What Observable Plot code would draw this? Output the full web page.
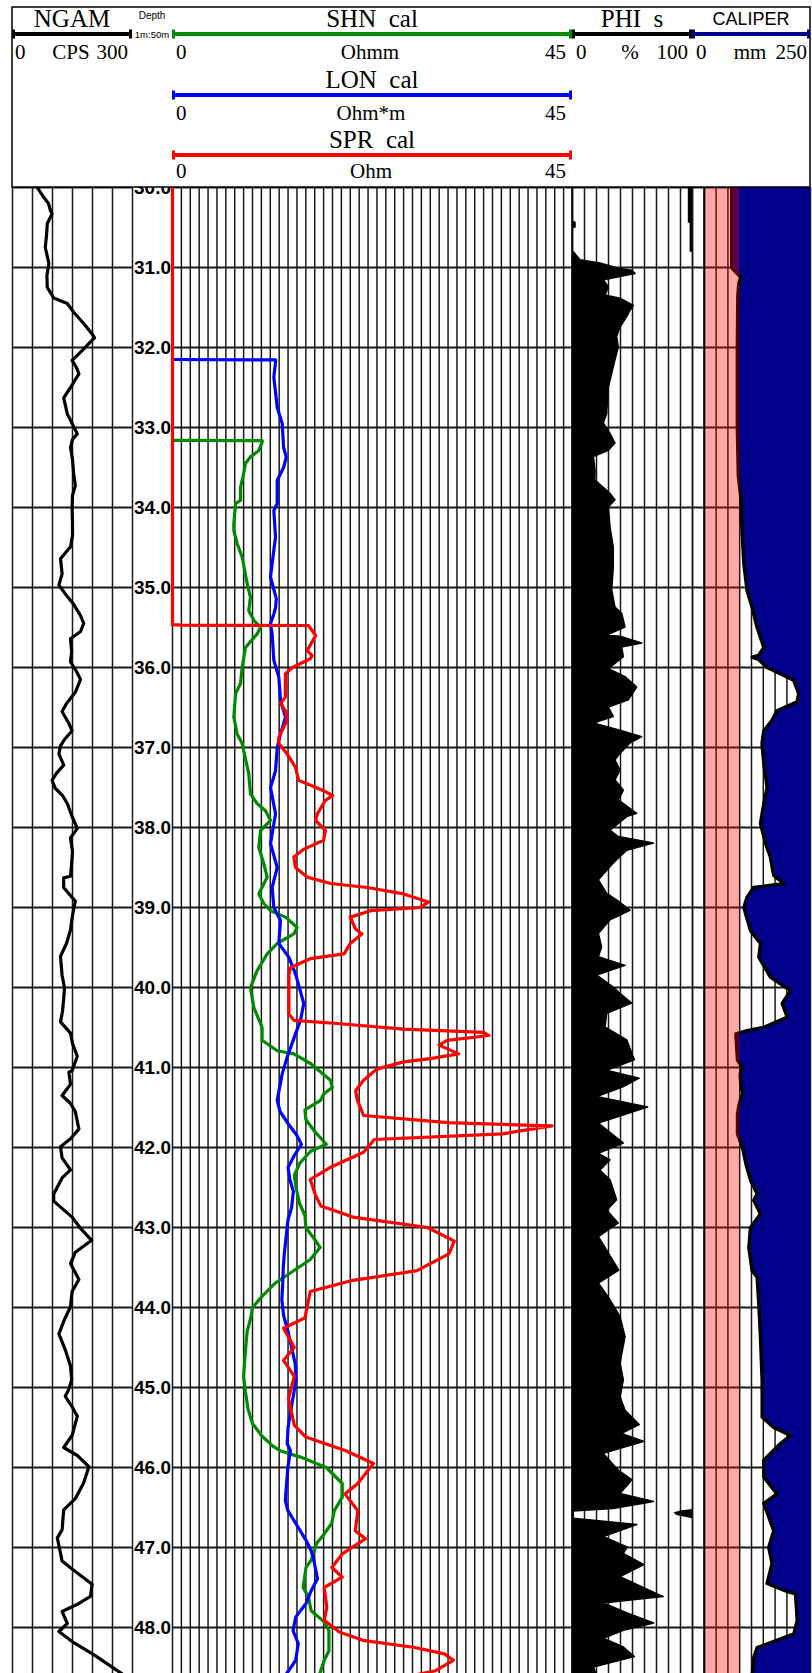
<!DOCTYPE html>
<html><head><meta charset="utf-8">
<script src="https://cdn.jsdelivr.net/npm/d3@7"></script>
<script src="https://cdn.jsdelivr.net/npm/@observablehq/plot@0.6"></script>
<style>
html,body{margin:0;padding:0;background:#fff;overflow:hidden}
#wrap{position:relative;width:812px;height:1673px;overflow:hidden;background:#fff}
</style></head><body><div id="wrap"></div>
<script>
// ---------------- data (depth in m, value in track units) ----------------
const depthTicks = [30,31,32,33,34,35,36,37,38,39,40,41,42,43,44,45,46,47,48];
const ngamTicks = [0,50,100,150,200,250,300];
const resTicks = Array.from({length: 46}, (_, i) => i);
const phiTicks = [0,10,20,30,40,50,60,70,80,90,100];
const calTicks = [0,25,50,75,100,125,150,175,200,225,250];
const bitBand = [{lo: 25, hi: 100}];

const NGAM = [[30.0,62],[30.1,75],[30.2,90],[30.29,95],[30.33,99],[30.45,87],[30.6,85],[30.75,82],[30.95,91],[31.1,86],[31.25,87],[31.38,103],[31.45,137],[31.56,153],[31.7,178],[31.83,199],[31.88,205],[31.95,191],[32.04,174],[32.16,149],[32.25,160],[32.33,166],[32.5,145],[32.63,128],[32.83,137],[33.08,162],[33.15,150],[33.25,145],[33.4,150],[33.58,153],[33.73,157],[33.85,150],[34.01,149],[34.2,150],[34.35,150],[34.49,145],[34.64,120],[34.83,124],[34.97,116],[35.1,135],[35.21,153],[35.35,170],[35.45,178],[35.55,170],[35.64,145],[35.8,148],[35.93,145],[36.05,160],[36.15,170],[36.31,157],[36.45,135],[36.55,124],[36.7,141],[36.79,149],[36.9,130],[36.98,120],[37.08,116],[37.22,128],[37.32,110],[37.41,99],[37.51,107],[37.6,125],[37.7,137],[37.85,148],[38.01,162],[38.13,145],[38.3,150],[38.45,148],[38.61,145],[38.63,128],[38.75,128],[38.92,157],[39.1,150],[39.28,145],[39.45,135],[39.61,120],[39.85,124],[40.0,130],[40.14,128],[40.3,125],[40.43,120],[40.57,145],[40.7,150],[40.86,162],[41.04,149],[41.06,141],[41.21,145],[41.35,124],[41.45,145],[41.55,157],[41.77,166],[41.89,145],[41.99,120],[42.13,124],[42.28,145],[42.38,124],[42.58,103],[42.67,103],[42.87,149],[43.01,170],[43.16,198],[43.31,157],[43.45,145],[43.65,166],[43.8,149],[43.99,145],[44.15,130],[44.33,116],[44.53,132],[44.73,145],[44.9,148],[45.02,141],[45.11,132],[45.25,150],[45.36,162],[45.6,149],[45.75,128],[45.85,162],[45.99,191],[46.19,178],[46.39,157],[46.53,128],[46.78,124],[46.88,112],[47.07,120],[47.17,124],[47.27,149],[47.46,199],[47.61,195],[47.71,162],[47.8,124],[47.95,137],[48.05,116],[48.19,153],[48.34,203],[48.6,280]];

const SHN = [[33.16,0],[33.165,10.1],[33.18,10.1],[33.29,9.7],[33.37,8.74],[33.45,8.2],[33.58,8.0],[33.75,7.65],[33.91,7.65],[33.95,7.1],[34.2,6.9],[34.29,6.9],[34.45,7.27],[34.62,7.84],[34.95,8.4],[35.12,8.77],[35.29,8.58],[35.41,9.15],[35.5,9.9],[35.58,9.52],[35.75,8.21],[36.0,7.84],[36.2,7.65],[36.33,7.09],[36.62,6.9],[36.83,7.27],[36.95,7.84],[37.33,8.58],[37.58,8.77],[37.7,9.52],[37.79,10.46],[37.91,11.03],[38.04,9.9],[38.25,9.71],[38.45,10.27],[38.62,10.65],[38.83,9.71],[38.95,10.27],[39.04,11.03],[39.12,12.71],[39.25,14.02],[39.33,13.65],[39.45,11.78],[39.58,10.65],[39.79,9.52],[40.0,8.77],[40.25,9.15],[40.5,10.08],[40.66,10.08],[40.79,11.78],[40.83,13.65],[40.95,15.52],[41.16,17.78],[41.25,17.97],[41.33,17.02],[41.41,16.65],[41.53,14.9],[41.65,15.0],[41.8,16.0],[41.96,17.3],[42.05,15.5],[42.2,14.3],[42.35,13.7],[42.5,13.9],[42.7,14.3],[42.85,14.9],[43.0,15.0],[43.15,16.0],[43.25,16.6],[43.4,15.5],[43.55,13.5],[43.7,11.5],[43.87,10.0],[44.0,9.0],[44.13,8.8],[44.3,8.4],[44.47,8.26],[44.7,8.1],[44.87,8.0],[45.05,8.2],[45.27,8.5],[45.45,9.0],[45.6,10.0],[45.73,11.26],[45.79,12.1],[45.87,14.4],[46.0,17.3],[46.2,19.1],[46.37,19.1],[46.54,18.2],[46.7,17.9],[46.83,17.07],[46.95,16.2],[47.16,15.6],[47.25,15.02],[47.5,14.7],[47.62,15.3],[47.79,15.6],[47.93,17.07],[48.04,17.6],[48.29,17.6],[48.41,17.07],[48.6,16.5]];

const LON = [[32.15,0],[32.155,11.6],[32.18,11.6],[32.37,11.4],[32.75,11.78],[32.95,12.34],[33.25,12.5],[33.37,12.8],[33.5,12.5],[33.66,11.78],[33.95,11.78],[34.04,11.4],[34.37,11.59],[34.7,11.21],[34.87,11.03],[35.14,11.68],[35.25,11.6],[35.33,11.4],[35.45,11.03],[35.58,11.21],[35.91,11.4],[36.12,11.96],[36.41,12.15],[36.62,12.71],[36.83,12.15],[37.0,11.78],[37.29,11.59],[37.5,11.03],[37.83,11.59],[38.2,11.03],[38.5,11.78],[38.75,11.21],[39.0,11.4],[39.16,12.15],[39.45,11.96],[39.62,13.08],[39.83,13.84],[40.2,14.77],[40.41,14.4],[40.58,13.84],[40.87,12.9],[41.08,12.34],[41.41,11.78],[41.55,12.1],[41.7,13.0],[41.85,14.0],[41.96,14.5],[42.1,13.7],[42.25,13.0],[42.4,13.2],[42.55,13.6],[42.75,13.4],[42.9,13.0],[43.1,12.8],[43.3,12.6],[43.5,12.46],[43.7,12.4],[43.9,12.3],[44.1,12.5],[44.3,13.0],[44.5,13.4],[44.7,13.8],[44.9,13.9],[45.1,13.6],[45.3,13.3],[45.5,13.0],[45.7,12.9],[45.79,13.27],[46.0,12.98],[46.41,12.69],[46.54,12.98],[46.75,14.15],[46.91,15.02],[47.04,15.6],[47.16,15.9],[47.39,16.31],[47.54,15.6],[47.7,15.02],[47.87,13.86],[48.04,13.56],[48.2,14.15],[48.41,13.86],[48.6,12.69]];

const SPR = [[30.0,0],[35.465,0],[35.47,1.0],[35.475,15.3],[35.6,16.1],[35.79,15.15],[35.85,15.7],[35.89,15.5],[36.0,13.5],[36.08,12.7],[36.37,12.7],[36.45,12.15],[36.54,12.7],[36.66,12.9],[36.87,11.96],[36.95,11.96],[37.08,12.9],[37.25,13.84],[37.41,14.2],[37.54,17.0],[37.6,18.0],[37.66,17.2],[37.83,16.3],[37.91,16.1],[38.04,17.2],[38.16,17.0],[38.27,14.8],[38.37,13.65],[38.5,13.84],[38.62,15.15],[38.7,17.8],[38.75,21.9],[38.83,26.0],[38.93,28.8],[39.0,27.9],[39.04,22.3],[39.12,20.0],[39.27,20.6],[39.33,21.3],[39.45,20.0],[39.58,19.3],[39.64,15.5],[39.75,13.3],[39.83,13.1],[40.33,13.1],[40.41,13.65],[40.45,18.5],[40.52,26.0],[40.56,35.0],[40.6,35.6],[40.66,30.9],[40.72,30.0],[40.83,32.2],[40.89,29.0],[40.93,26.0],[41.02,23.0],[41.16,21.5],[41.29,20.6],[41.41,20.8],[41.6,21.5],[41.69,31],[41.73,42.7],[41.83,37.1],[41.9,22.7],[42.06,21.5],[42.24,17.9],[42.4,15.5],[42.6,16.1],[42.73,16.7],[42.87,20.3],[43.0,28.7],[43.17,31.7],[43.33,31.1],[43.54,27.5],[43.66,20.3],[43.8,15.5],[44.13,14.9],[44.26,12.5],[44.5,13.7],[44.66,12.5],[44.86,13.7],[45.14,13.05],[45.47,13.7],[45.62,15.0],[45.79,19.5],[45.95,22.6],[46.2,20.85],[46.33,19.4],[46.54,20.85],[46.79,20.56],[46.89,21.72],[47.08,19.1],[47.25,17.93],[47.37,19.1],[47.5,17.07],[47.75,17.36],[47.91,17.07],[48.06,18.81],[48.16,21.43],[48.25,27.26],[48.33,30.6],[48.41,31.6],[48.54,29.6],[48.6,27]];

const PHI = [[30.0,0],[30.43,0],[30.44,2.5],[30.5,2.5],[30.51,0],[30.8,0],[30.81,1.1],[30.91,6.7],[30.95,23.3],[31.02,40],[31.04,49.7],[31.08,52.5],[31.12,40],[31.16,26.1],[31.25,30.3],[31.35,27.5],[31.39,40],[31.48,51.1],[31.54,48.3],[31.62,45.6],[31.75,40],[31.87,37.2],[32.0,38.6],[32.16,35.8],[32.33,33.1],[32.5,30.3],[32.83,28.9],[32.95,26.1],[33.08,31.7],[33.2,35.8],[33.29,30.3],[33.37,17.8],[33.54,19.2],[33.66,19],[33.83,31.7],[33.91,35.8],[34.0,30.3],[34.25,31.7],[34.5,34.4],[34.75,34.4],[35.04,33.1],[35.25,35.8],[35.33,41.4],[35.5,44.2],[35.6,28.9],[35.62,41.4],[35.7,58.1],[35.75,41.4],[35.87,42.8],[36.02,30.3],[36.12,44.2],[36.25,53.9],[36.41,46.9],[36.5,30.3],[36.62,34.4],[36.7,17.8],[36.79,40],[36.87,58.1],[36.95,48.3],[37.08,40],[37.16,35.8],[37.29,40],[37.41,35.8],[37.54,42.8],[37.66,38.6],[37.83,53.9],[37.87,45.6],[38.04,31.7],[38.12,38.6],[38.2,67.8],[38.29,45.6],[38.45,34.4],[38.66,22],[38.83,28.9],[38.91,37.2],[39.04,48.3],[39.16,31.7],[39.33,22],[39.5,24.7],[39.62,22],[39.73,44.2],[39.85,20.6],[40.0,34.4],[40.08,40],[40.2,49.7],[40.33,28.9],[40.5,27.5],[40.66,45.6],[40.91,52],[41.04,28.9],[41.14,56],[41.25,42],[41.37,20.6],[41.5,63],[41.7,22],[41.95,42.8],[42.08,22],[42.16,31.7],[42.29,23.3],[42.41,31.7],[42.66,37.2],[42.79,28.9],[42.95,38.6],[43.12,22],[43.29,28.9],[43.54,39],[43.7,22],[43.91,31.7],[44.12,40],[44.37,44.2],[44.7,40],[44.91,42.8],[45.12,40],[45.29,44.2],[45.47,56],[45.58,41.4],[45.68,60],[45.83,26.1],[46.04,38.6],[46.16,50],[46.33,40],[46.43,68],[46.52,34.4],[46.55,1.1],[46.64,1.1],[46.72,54],[46.87,26.1],[47.0,46],[47.08,42.8],[47.22,60],[47.37,40],[47.62,76],[47.7,26.1],[47.83,47],[47.95,68],[48.04,42.8],[48.14,26.1],[48.25,42.8],[48.37,52],[48.5,17.8],[48.6,20.6]];
// PHI values below 0 wrapped to the right edge of the track
const PHI_wrapTop = [[30.0,96.5],[30.44,96.5],[30.45,98],[30.81,98]];
const PHI_wrapMid = [[46.525,100],[46.545,90],[46.57,84.5],[46.6,87],[46.64,100]];

const CALIPER = [[30.0,83],[31.0,83],[31.06,92],[31.12,102],[31.2,98],[31.35,96],[32.0,95],[33.0,95],[33.3,96],[33.6,97],[33.91,103],[34.3,105],[34.7,108.7],[35.04,115.7],[35.25,126.3],[35.5,136.9],[35.75,151],[35.85,140],[35.87,126.3],[35.9,140],[36.0,158],[36.16,214.4],[36.33,225],[36.43,221.4],[36.54,179],[36.66,168.4],[36.79,151],[36.95,147.2],[37.2,151],[37.5,158],[37.7,151],[37.95,144],[38.2,154.7],[38.37,165],[38.6,172],[38.66,185],[38.7,193],[38.75,129.5],[38.87,115.7],[39.0,108.7],[39.29,122.9],[39.45,144],[39.62,140.4],[39.87,165],[40.04,207.6],[40.2,190],[40.37,200.6],[40.5,150],[40.54,115.7],[40.58,91.8],[40.91,95.3],[41.0,105.9],[41.08,101],[41.16,101.7],[41.33,105.9],[41.45,99],[41.58,95.3],[41.83,95.3],[42.0,105.9],[42.2,112.9],[42.41,122.9],[42.58,137],[42.66,129.8],[42.83,144],[43.0,122.9],[43.25,119.4],[43.54,126.3],[43.62,136.9],[43.95,140.4],[44.37,144],[44.91,147.5],[45.37,147.5],[45.5,172],[45.6,207.6],[45.7,186.4],[45.91,151],[46.12,151],[46.33,179],[46.45,151],[46.79,172],[47.0,161.5],[47.2,168.6],[47.45,158],[47.55,200],[47.58,218.2],[47.91,221.8],[48.08,214.7],[48.2,160],[48.25,137],[48.37,130],[48.6,126.3]];

// ---------------- layout ----------------
const TOP = 187, H = 1486, D0 = 30, D1 = 30 + H / 80;
const T = {ngam: [12, 132], depth: [132, 172], res: [172, 572], phi: [572, 692], cal: [692, 810]};
const GRID = "#1a1a1a";
const wrap = document.getElementById("wrap");
const dep = d => d[0], val = d => d[1];

function track([x0, x1], domain, marks) {
  const el = Plot.plot({
    width: x1 - x0, height: H, margin: 0,
    x: {domain, axis: null},
    y: {domain: [D0, D1], reverse: true, axis: null},
    style: {overflow: "visible", background: "transparent"},
    marks
  });
  el.style.position = "absolute";
  el.style.left = x0 + "px";
  el.style.top = TOP + "px";
  wrap.appendChild(el);
}
const vgrid = ticks => Plot.ruleX(ticks, {stroke: GRID, strokeWidth: 1.5});
const hgrid = () => Plot.ruleY(depthTicks, {stroke: GRID, strokeWidth: 2});

// NGAM
track(T.ngam, [0, 300], [
  vgrid(ngamTicks), hgrid(),
  Plot.line(NGAM, {x: val, y: dep, stroke: "black", strokeWidth: 3.2, strokeLinejoin: "round"})
]);
// Depth
track(T.depth, [0, 1], [
  Plot.text(depthTicks, {x: () => 0.5, y: d => d, text: d => d.toFixed(1), fontSize: 19, fontWeight: "bold", fontFamily: "Liberation Sans, Arial, sans-serif", fill: "black"})
]);
// Resistivity
track(T.res, [0, 45], [
  vgrid(resTicks), hgrid(),
  Plot.line(SHN, {x: val, y: dep, stroke: "#008a00", strokeWidth: 3.2, strokeLinejoin: "round"}),
  Plot.line(LON, {x: val, y: dep, stroke: "#0000ff", strokeWidth: 3.2, strokeLinejoin: "round"}),
  Plot.line(SPR, {x: val, y: dep, stroke: "#ff0000", strokeWidth: 3.2, strokeLinejoin: "round"})
]);
// PHI
track(T.phi, [0, 100], [
  vgrid(phiTicks), hgrid(),
  Plot.areaX(PHI, {y: dep, x1: () => 0, x2: val, fill: "black", stroke: "black", strokeWidth: 1.5}),
  Plot.areaX(PHI_wrapTop, {y: dep, x1: val, x2: () => 100, fill: "black"}),
  Plot.areaX(PHI_wrapMid, {y: dep, x1: val, x2: () => 100, fill: "black"})
]);
// Caliper
track(T.cal, [0, 250], [
  vgrid(calTicks), hgrid(),
  Plot.areaX(CALIPER, {y: dep, x1: val, x2: () => 250, fill: "#00008b"}),
  Plot.line(CALIPER, {x: val, y: dep, stroke: "black", strokeWidth: 3.4, strokeLinejoin: "round"}),
  Plot.rect(bitBand, {x1: d => d.lo, x2: d => d.hi, y1: () => D0, y2: () => D1, fill: "rgb(255,0,0)", fillOpacity: 0.34}),
  Plot.ruleX(bitBand, {x: d => d.lo, stroke: "black", strokeWidth: 2})
]);

// ---------------- header (track legend) ----------------
const hdr = d3.create("svg").attr("width", 812).attr("height", TOP + 1)
  .style("position", "absolute").style("left", "0px").style("top", "0px");
hdr.append("rect").attr("x", 0).attr("y", 0).attr("width", 812).attr("height", TOP).attr("fill", "white");
hdr.append("rect").attr("x", 12).attr("y", 7).attr("width", 798).attr("height", 180)
  .attr("fill", "none").attr("stroke", "black").attr("stroke-width", 1.5);

const bars = [
  {t: T.ngam, y: 34, c: "black"}, {t: T.res, y: 34, c: "#008a00"}, {t: T.phi, y: 34, c: "black"},
  {t: T.cal, y: 34, c: "#00008b"}, {t: T.res, y: 95, c: "#0000ff"}, {t: T.res, y: 155, c: "#ff0000"}
];
for (const b of bars) {
  hdr.append("line").attr("x1", b.t[0]).attr("x2", b.t[1]).attr("y1", b.y).attr("y2", b.y)
    .attr("stroke", b.c).attr("stroke-width", 4);
  for (const x of [b.t[0], b.t[1] - 3]) {
    hdr.append("rect").attr("x", x).attr("y", b.y - 4.5).attr("width", 3).attr("height", 9).attr("fill", b.c);
  }
}
const SERIF = "Liberation Serif, Times New Roman, serif", SANS = "Liberation Sans, Arial, sans-serif";
const mid = t => (t[0] + t[1]) / 2;
const labels = [
  ["NGAM", mid(T.ngam), 27, "middle", 25, SERIF],
  ["Depth", mid(T.depth), 19, "middle", 10, SANS],
  ["1m:50m", mid(T.depth), 37.5, "middle", 9.5, SANS],
  ["SHN  cal", mid(T.res), 27, "middle", 25, SERIF],
  ["PHI  s", mid(T.phi), 27, "middle", 25, SERIF],
  ["CALIPER", mid(T.cal), 25, "middle", 18, SANS],
  ["0", 15, 59, "start", 21, SERIF], ["CPS", 71, 59, "middle", 21, SERIF], ["300", 128, 59, "end", 21, SERIF],
  ["0", 176, 59, "start", 21, SERIF], ["Ohmm", 370, 59, "middle", 21, SERIF], ["45", 566, 59, "end", 21, SERIF],
  ["0", 576, 59, "start", 21, SERIF], ["%", 630, 59, "middle", 21, SERIF], ["100", 688, 59, "end", 21, SERIF],
  ["0", 696, 59, "start", 21, SERIF], ["mm", 750, 59, "middle", 21, SERIF], ["250", 807, 59, "end", 21, SERIF],
  ["LON  cal", mid(T.res), 88, "middle", 25, SERIF],
  ["0", 176, 120, "start", 21, SERIF], ["Ohm*m", 371, 120, "middle", 21, SERIF], ["45", 566, 120, "end", 21, SERIF],
  ["SPR  cal", mid(T.res), 148, "middle", 25, SERIF],
  ["0", 176, 178, "start", 21, SERIF], ["Ohm", 371, 178, "middle", 21, SERIF], ["45", 566, 178, "end", 21, SERIF]
];
for (const [s, x, y, a, fs, ff] of labels) {
  hdr.append("text").attr("x", x).attr("y", y).attr("text-anchor", a).attr("font-size", fs)
    .attr("font-family", ff).attr("fill", "black").style("white-space", "pre").text(s);
}
wrap.appendChild(hdr.node());
</script></body></html>
